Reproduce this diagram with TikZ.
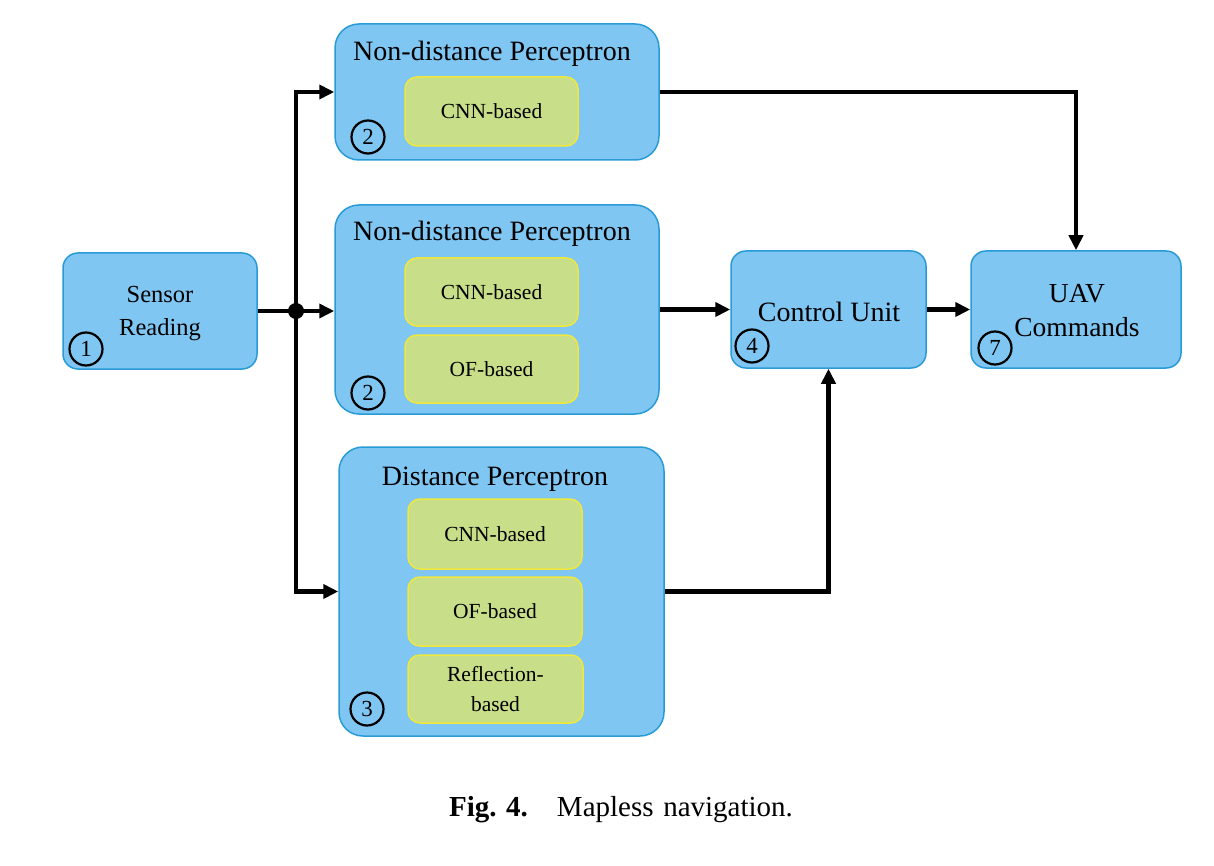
\documentclass[tikz,border=0pt]{standalone}
\usepackage{fontspec}
\setmainfont{Liberation Serif}
\usetikzlibrary{arrows.meta}
\definecolor{bfill}{RGB}{128,198,243}
\definecolor{bdraw}{RGB}{40,155,215}
\definecolor{gfill}{RGB}{200,222,136}
\definecolor{gdraw}{RGB}{240,232,60}
\tikzset{
  bluebox/.style={draw=bdraw, fill=bfill, line width=1.5pt, rounded corners=24pt, inner sep=0pt},
  smallblue/.style={draw=bdraw, fill=bfill, line width=1.5pt, rounded corners=15pt, inner sep=0pt},
  greenbox/.style={draw=gdraw, fill=gfill, line width=1.5pt, rounded corners=12pt, inner sep=0pt, minimum width=173pt, font=\fontsize{21.5}{25}\selectfont, align=center},
  numc/.style={circle, draw=black, line width=2.2pt, minimum size=33pt, inner sep=0pt, font=\fontsize{23}{23}\selectfont},
  titletext/.style={font=\fontsize{28}{32}\selectfont, inner sep=0pt},
  conn/.style={line width=4.3pt, -{Triangle[length=15pt,width=14pt]}},
}
\begin{document}
\begin{tikzpicture}[x=1pt,y=-1pt]
\useasboundingbox (0,0) rectangle (1214,866);
% Sensor
\node[smallblue, minimum width=194pt, minimum height=116pt] (sensor) at (160,311) {};
\node[align=center, font=\fontsize{24.5}{33}\selectfont] (sensortxt) at (160,314) {Sensor\\Reading};
\node[numc] (n1) at (86,349) {1};
% Box A
\node[bluebox, minimum width=324pt, minimum height=136pt] (A) at (497,92) {};
\node[titletext] (Atitle) at (492,54) {Non-distance Perceptron};
\node[greenbox, minimum height=69pt] (A1) at (491.5,111.5) {CNN-based};
\node[numc] (n2a) at (368,137) {2};
% Box B
\node[bluebox, minimum width=324pt, minimum height=209pt] (B) at (497,309.5) {};
\node[titletext] (Btitle) at (492,234) {Non-distance Perceptron};
\node[greenbox, minimum height=68pt] (B1) at (491.5,292) {CNN-based};
\node[greenbox, minimum height=68pt] (B2) at (491.5,369) {OF-based};
\node[numc] (n2b) at (368,393) {2};
% Box C
\node[bluebox, minimum width=325pt, minimum height=289pt] (C) at (501.5,591.5) {};
\node[titletext] (Ctitle) at (495,479) {Distance Perceptron};
\node[greenbox, minimum width=174pt, minimum height=70pt] (C1) at (495,534) {CNN-based};
\node[greenbox, minimum width=174pt, minimum height=69pt] (C2) at (495,611.5) {OF-based};
\node[greenbox, minimum width=175pt, minimum height=68pt, font=\fontsize{21.5}{30}\selectfont] (C3) at (495.5,689) {Reflection-\\based};
\node[numc] (n3) at (367,709) {3};
% Control
\node[smallblue, minimum width=195pt, minimum height=117pt] (ctrl) at (828.5,309.5) {};
\node[titletext] (ctrltxt) at (829,312) {Control Unit};
\node[numc] (n4) at (752,346) {4};
% UAV
\node[smallblue, minimum width=210pt, minimum height=117pt] (uav) at (1076,309.5) {};
\node[align=center, font=\fontsize{27.5}{34}\selectfont] (uavtxt) at (1077,311) {UAV\\Commands};
\node[numc] (n7) at (995,348) {7};
% connectors
\coordinate (j) at (296,311);
\draw[conn] (sensor.east |- j) -- (j -| B.west);
\draw[conn] (j) |- (A.west);
\draw[conn] (j) |- (C.west);
\fill (j) circle (8pt);
\draw[conn] (A.east) -| (uav.north);
\draw[conn] (B.east) -- (ctrl.west);
\draw[conn] (ctrl.east) -- (uav.west);
\draw[conn] (C.east) -| (ctrl.south);
% caption
\node[font=\fontsize{29}{32}\selectfont] (cap) at (621,810) {\textbf{Fig.\,\,4.}\quad Mapless\,\,navigation.};
\end{tikzpicture}
\end{document}
